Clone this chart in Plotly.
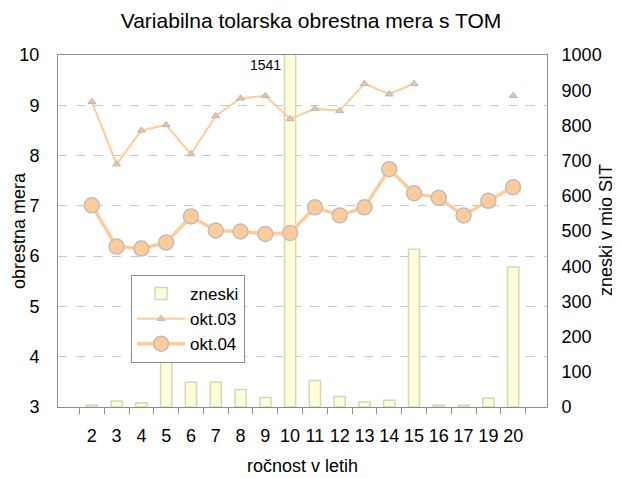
import plotly.graph_objects as go

categories = ["2", "3", "4", "5", "6", "7", "8", "9", "10", "11", "12", "13", "14", "15", "16", "17", "19", "20"]
zneski = [6, 17, 12, 230, 70, 70, 50, 27, 1541, 75, 30, 14, 19, 448, 5, 5, 25, 398]
okt03 = [9.07, 7.83, 8.50, 8.61, 8.03, 8.79, 9.14, 9.19, 8.73, 8.93, 8.89, 9.43, 9.22, 9.43, None, None, None, 9.19]
okt04 = [7.01, 6.19, 6.15, 6.27, 6.79, 6.51, 6.49, 6.44, 6.46, 6.97, 6.81, 6.97, 7.73, 7.25, 7.16, 6.81, 7.10, 7.37]
left_ticks = [3, 4, 5, 6, 7, 8, 9, 10]
right_ticks = [0, 100, 200, 300, 400, 500, 600, 700, 800, 900, 1000]

FONT = "Liberation Sans, Arial, sans-serif"
OFF = 8  # default page body margin
W, H = 620 - OFF, 478 - OFF
L, T = 58 - OFF, 55 - OFF
pw, ph = 489, 352
R, B = W - L - pw, H - T - ph


def dx(px):  # page x -> plot-domain fraction
    return (px - OFF - L) / pw


def dy(py):  # page y -> plot-domain fraction
    return (T + ph - (py - OFF)) / ph


fig = go.Figure()
fig.add_trace(go.Bar(
    x=categories, y=zneski, name="zneski", yaxis="y",
    marker=dict(color="#FFFFD9", line=dict(color="#D6D6B4", width=1.5)),
))
fig.add_trace(go.Scatter(
    x=categories, y=okt03, name="okt.03", yaxis="y2", mode="lines+markers",
    line=dict(color="#FFCC99", width=2),
    marker=dict(symbol="triangle-up", size=7, color="#E8C4A4", line=dict(color="#B8B8B8", width=1)),
))
fig.add_trace(go.Scatter(
    x=categories, y=okt04, name="okt.04", yaxis="y2", mode="lines+markers",
    line=dict(color="#FFCC99", width=3.5),
    marker=dict(symbol="circle", size=15, color="#FFCC99", line=dict(color="#BDBDBD", width=1.5)),
))

fig.update_layout(
    width=W, height=H,
    margin=dict(l=L, r=R, t=T, b=B, pad=0),
    paper_bgcolor="white", plot_bgcolor="white",
    font=dict(family=FONT, size=18, color="black"),
    title=dict(text="Variabilna tolarska obrestna mera s TOM", x=(311 - OFF) / W, xanchor="center",
               xref="container", y=1 - (21 - OFF) / H, yanchor="middle", font=dict(size=21)),
    bargap=0.55,
    showlegend=True,
    legend=dict(x=dx(131), y=dy(275), xanchor="left", yanchor="top", bgcolor="white",
                bordercolor="#8C8C8C", borderwidth=1, font=dict(size=17),
                itemwidth=48, tracegroupgap=0, traceorder="normal"),
    xaxis=dict(type="category", categoryorder="array", categoryarray=categories,
               showline=True, linecolor="#8C8C8C", linewidth=1, mirror=True,
               ticks="outside", tickson="boundaries", ticklen=6, tickcolor="#8C8C8C",
               tickangle=0, ticklabelstandoff=12, automargin=False, showgrid=False),
    yaxis=dict(side="right", range=[0, 1000], tickvals=right_ticks, showgrid=False,
               showline=True, linecolor="#8C8C8C", linewidth=1, ticks="",
               ticklabelstandoff=10, zeroline=False, automargin=False),
    yaxis2=dict(side="left", overlaying="y", range=[3, 10], tickvals=left_ticks,
                showgrid=True, gridcolor="#C8C8C8", griddash="dash", gridwidth=1,
                showline=True, linecolor="#8C8C8C", linewidth=1, ticks="",
                ticklabelstandoff=14, zeroline=False, automargin=False),
    annotations=[
        dict(text="1541", x=8, xref="x", y=1, yref="paper",
             xanchor="right", yanchor="top", xshift=-7, yshift=0,
             showarrow=False, font=dict(size=14)),
        dict(text="obrestna mera", textangle=-90, x=dx(19), xref="paper", xanchor="center",
             y=dy(231), yref="paper", yanchor="middle", showarrow=False, font=dict(size=18)),
        dict(text="zneski v mio SIT", textangle=-90, x=dx(606), xref="paper", xanchor="center",
             y=dy(230), yref="paper", yanchor="middle", showarrow=False, font=dict(size=18)),
        dict(text="ročnost v letih", x=dx(302), xref="paper", xanchor="center",
             y=dy(466), yref="paper", yanchor="middle", showarrow=False, font=dict(size=18)),
    ],
)

fig.write_html("out.html")
